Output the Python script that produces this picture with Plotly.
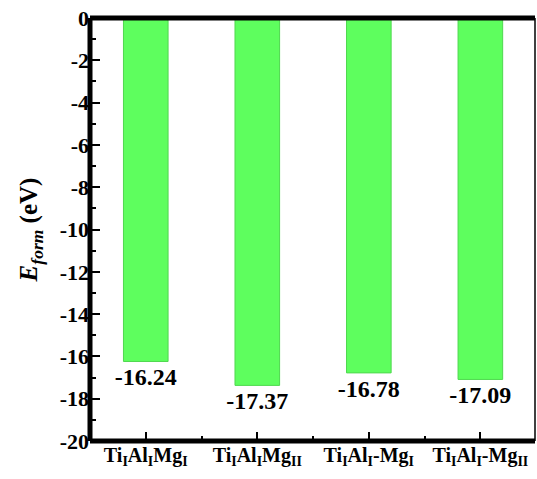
import plotly.graph_objects as go

categories = ["<b>Ti<sub>I</sub>Al<sub>I</sub>Mg<sub>I</sub></b>",
              "<b>Ti<sub>I</sub>Al<sub>I</sub>Mg<sub>II</sub></b>",
              "<b>Ti<sub>I</sub>Al<sub>I</sub>-Mg<sub>I</sub></b>",
              "<b>Ti<sub>I</sub>Al<sub>I</sub>-Mg<sub>II</sub></b>"]
e_form = [-16.24, -17.37, -16.78, -17.09]
labels = ["-16.24", "-17.37", "-16.78", "-17.09"]
y_ticks = [0, -2, -4, -6, -8, -10, -12, -14, -16, -18, -20]

font = "Liberation Serif"

fig = go.Figure()
fig.add_trace(go.Bar(
    x=list(range(len(categories))), y=e_form,
    width=0.4,
    marker=dict(color="#5efe5e", line=dict(color="#4fd84f", width=1)),
    text=["<b>%s</b>" % s for s in labels], textposition="outside",
    constraintext="none", cliponaxis=False,
    textfont=dict(family=font, size=24, color="black"),
    showlegend=False,
))

fig.update_layout(
    width=537, height=479,
    margin=dict(l=90, r=2, t=18, b=38),
    plot_bgcolor="white", paper_bgcolor="white",
    font=dict(family=font, size=22, color="black"),
)
fig.update_xaxes(
    range=[-0.5, 3.49],
    tickvals=list(range(len(categories))), ticktext=categories,
    ticks="inside", ticklen=9, tickwidth=2, tickcolor="black",
    minor=dict(dtick=1, tick0=0.5, ticks="inside", ticklen=5, tickwidth=2, tickcolor="black"),
    showline=False, showgrid=False, zeroline=False,
    tickfont=dict(family=font, size=20, color="black"),
)
fig.update_yaxes(
    range=[-20, 0],
    tickmode="array", tickvals=y_ticks, ticktext=["<b>%d</b>" % v for v in y_ticks],
    ticks="inside", ticklen=10, tickwidth=2, tickcolor="black",
    minor=dict(dtick=1, ticks="inside", ticklen=6, tickwidth=2, tickcolor="black"),
    showline=False, showgrid=False, zeroline=False,
    tickfont=dict(family=font, size=22, color="black"),
    title=dict(text="<b><i>E<sub>form</sub></i> (eV)</b>", standoff=14,
               font=dict(family=font, size=25, color="black")),
)
frame = [(0, 0, 0, 1, 5), (0, 0, 1, 0, 5), (0, 1, 1, 1, 5), (1, 0, 1, 1, 1.5)]
for x0, y0, x1, y1, w in frame:
    fig.add_shape(type="line", xref="paper", yref="paper", x0=x0, y0=y0, x1=x1, y1=y1,
                  line=dict(color="black", width=w), layer="above")

fig.write_html("out.html", config={"displayModeBar": False},
               post_script="document.body.style.margin='0';")
